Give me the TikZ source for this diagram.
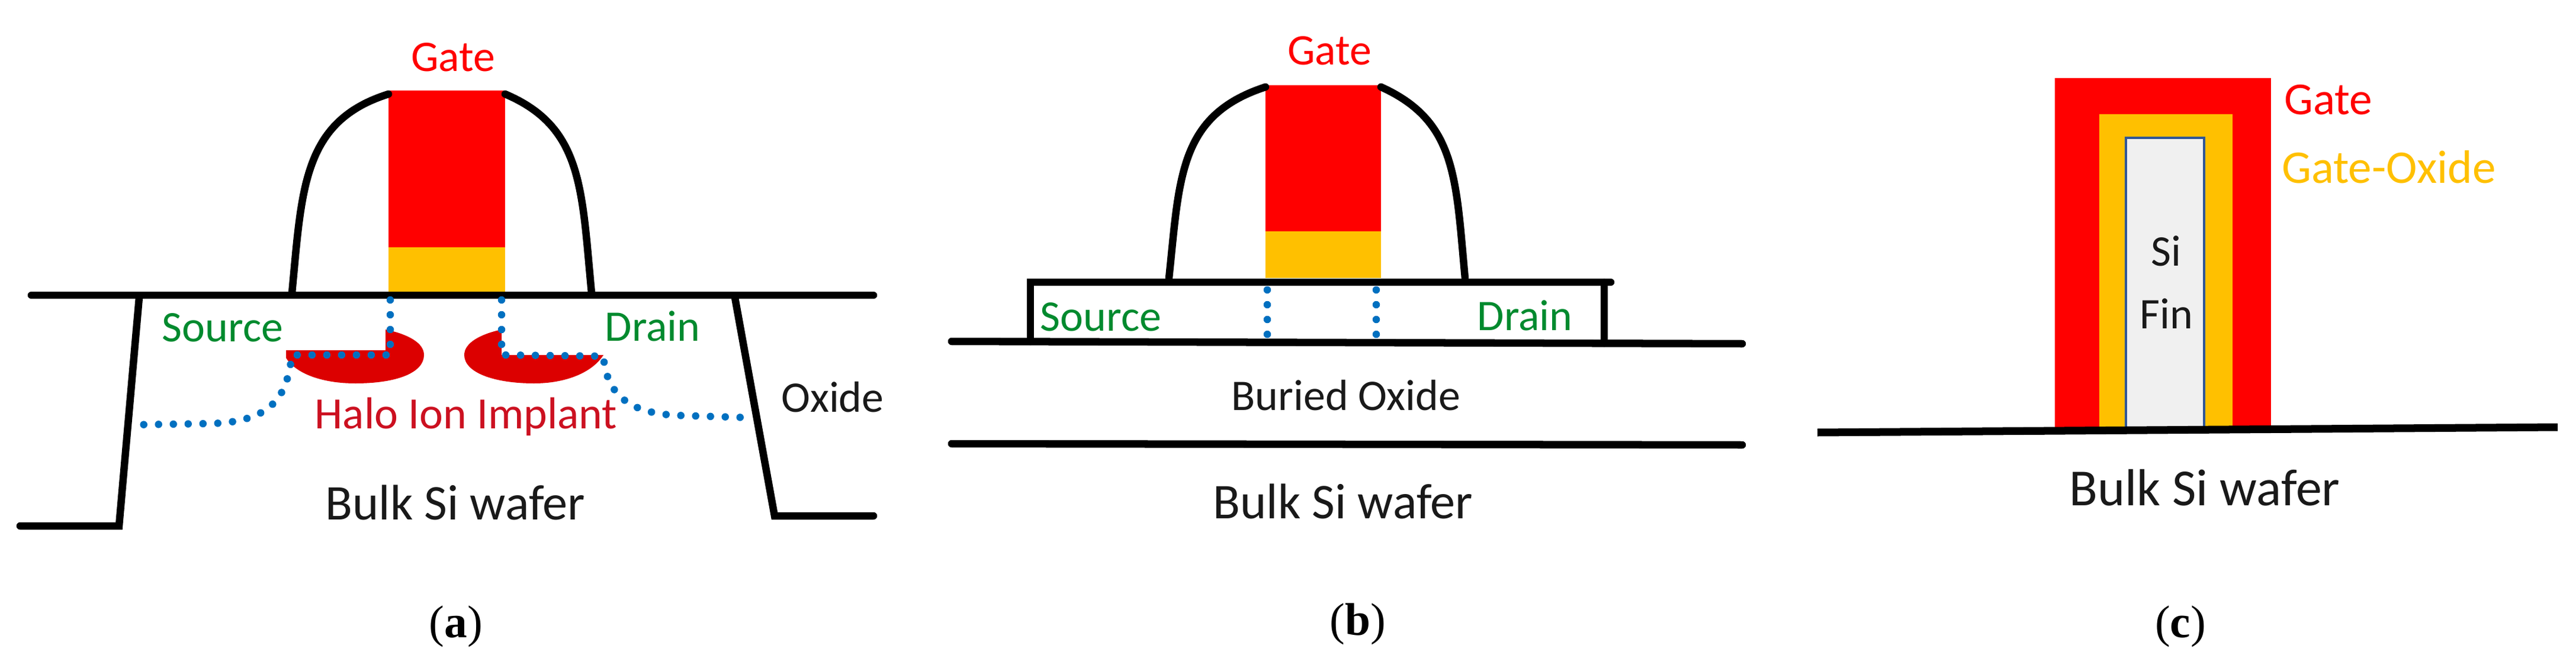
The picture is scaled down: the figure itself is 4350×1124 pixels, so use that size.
\documentclass[tikz,border=0pt]{standalone}
\usepackage{fontspec}
\setmainfont{Carlito}
\newfontfamily\capfont{Liberation Serif}
\usepackage{xcolor}
\definecolor{gatered}{HTML}{FF0000}
\definecolor{oxideyel}{HTML}{FFC000}
\definecolor{halored}{HTML}{DC0000}
\definecolor{halotext}{HTML}{CC1020}
\definecolor{srcgreen}{HTML}{008A2E}
\definecolor{dotblue}{HTML}{0070C0}
\definecolor{finedge}{HTML}{2F5597}
\begin{document}
\begin{tikzpicture}[
		x=0.01cm, y=-0.01cm,
		wall/.style = {line width=1.25mm, black, line cap=round, line join=miter},
		junction/.style = {line width=1.25mm, dotblue, line cap=round, dash pattern=on 0cm off 2.5mm},
		txt/.style = {inner sep=0pt, font=\fontsize{21}{25}\selectfont},
		bulk/.style = {txt, font=\fontsize{24}{28}\selectfont, text=black!90},
		gatetxt/.style = {txt, text=gatered},
		sdtxt/.style = {txt, text=srcgreen},
		captxt/.style = {inner sep=0pt, font=\capfont\fontsize{22}{26}\selectfont}
		]
		\useasboundingbox (0,0) rectangle (4350,1124);
		\fill[white] (0,0) rectangle (4350,1124);
		
		% Planar
		\fill[gatered] (656,153) rectangle (853,418);
		\fill[oxideyel] (656,418) rectangle (853,499);
		\fill[halored] (483,592) -- (651,592) -- (651,557) .. controls (690,565) and (716,580) .. (716,600) .. controls (716,630) and (670,648) .. (600,648) .. controls (545,648) and (500,632) .. (483,605) -- cycle;
		\fill[halored] (847,557) -- (847,600) -- (1019,600) .. controls (1000,630) and (955,648) .. (902,648) .. controls (835,648) and (784,630) .. (784,600) .. controls (784,580) and (810,565) .. cycle;
		\draw[wall] (53,499) -- (1475,499);
		\draw[wall] (34,889) -- (201,889) -- (235,503);
		\draw[wall] (1241,503) -- (1308,872) -- (1475,872);
		\draw[wall] (493,495) .. controls (510,320) and (510,205) .. (656,159);
		\draw[wall] (999,495) .. controls (982,320) and (985,215) .. (853,159);
		\draw[junction] (659,507) -- (659,600) -- (493,600) .. controls (485,660) and (470,715) .. (349,716) -- (223,718);
		\draw[junction] (847,507) -- (847,600) -- (1019,602) .. controls (1025,680) and (1080,698) .. (1140,702) -- (1269,706);
		
		\node[gatetxt] (gate_a) at (765,97) {Gate};
		\node[sdtxt] (source_a) at (376,554) {Source};
		\node[sdtxt] (drain_a) at (1102,551) {Drain};
		\node[txt, text=halotext, font=\fontsize{21.5}{25}\selectfont] (halo) at (787,704) {Halo Ion Implant};
		\node[txt, text=black!90] (oxide) at (1406,671) {Oxide};
		\node[bulk] (bulk_a) at (769,849) {Bulk Si wafer};
		\node[captxt] (cap_a) at (770,1059) {(\textbf{a})};
		
		% SOI
		\fill[gatered] (2137,144) rectangle (2332,391);
		\fill[oxideyel] (2137,391) rectangle (2332,470);
		\draw[wall] (1740,577) -- (1740,477) -- (2720,477);
		\draw[wall] (2709,477) -- (2709,580);
		\draw[wall] (1607,577) -- (2942,581);
		\draw[wall] (1607,750) -- (2942,752);
		\draw[wall] (1974,470) .. controls (1992,300) and (1990,195) .. (2137,147);
		\draw[wall] (2474,470) .. controls (2458,300) and (2460,205) .. (2332,147);
		\draw[junction] (2140,490) -- (2140,588);
		\draw[junction] (2324,490) -- (2324,588);
		
		\node[gatetxt] (gate_b) at (2245,86) {Gate};
		\node[sdtxt] (source_b) at (1859,536) {Source};
		\node[sdtxt] (drain_b) at (2575,533) {Drain};
		\node[txt, text=black!90] (buried) at (2273,668) {Buried Oxide};
		\node[bulk] (bulk_b) at (2268,847) {Bulk Si wafer};
		\node[captxt] (cap_b) at (2293,1055) {(\textbf{b})};
		
		% FinFET
		\fill[gatered] (3470,132) rectangle (3835,724);
		\fill[oxideyel] (3545,193) rectangle (3770,724);
		\draw[fill=black!6, draw=finedge, line width=0.35mm] (3590,233) rectangle (3722,724);
		\draw[wall, line width=1.3mm, line cap=butt] (3069,731) -- (4319,722);
		
		\node[gatetxt, font=\fontsize{22}{26}\selectfont] (gate_c) at (3932,169) {Gate};
		\node[txt, text=oxideyel, font=\fontsize{22.5}{26}\selectfont] (gate_ox) at (4034,282) {Gate-Oxide};
		\node[txt, text=black!90] (si) at (3658,424) {Si};
		\node[txt, text=black!90] (fin) at (3658,530) {Fin};
		\node[bulk, font=\fontsize{25}{29}\selectfont] (bulk_c) at (3723,824) {Bulk Si wafer};
		\node[captxt] (cap_c) at (3682,1059) {(\textbf{c})};
		
\end{tikzpicture}
\end{document}
